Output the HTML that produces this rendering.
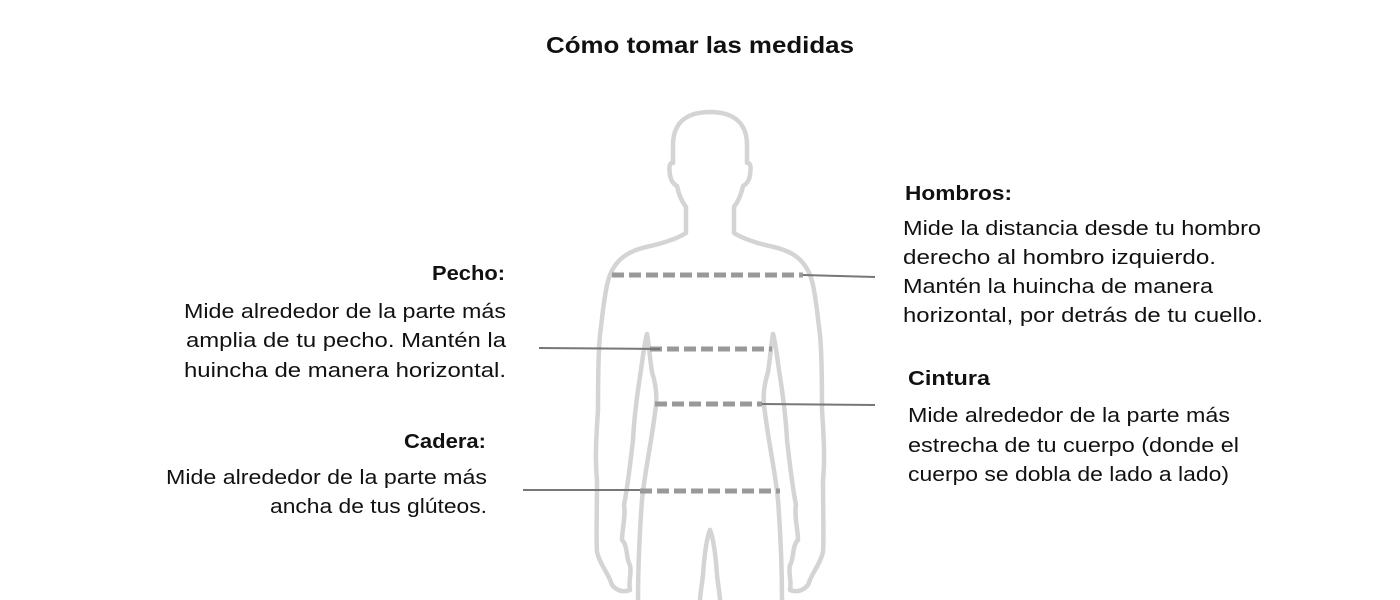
<!DOCTYPE html>
<html><head><meta charset="utf-8"><style>
html,body{margin:0;padding:0;background:#fff;}
svg{display:block;}
text{font-family:"Liberation Sans",sans-serif;fill:#111;}
.h{font-weight:bold;font-size:20px;}
.b{font-size:20px;}
</style></head><body>
<svg width="1400" height="600" viewBox="0 0 1400 600" xmlns="http://www.w3.org/2000/svg">
<text x="546" y="53" class="h" style="font-size:23px" textLength="308" lengthAdjust="spacingAndGlyphs">Cómo tomar las medidas</text>

<g fill="none" stroke="#d4d4d4" stroke-width="4.5" stroke-linejoin="round" stroke-linecap="round">
<g id="half">
<path d="M710,112 C690,112 673,120 673,145 L673,163 C669,162 669,168 670,175 C671,182 675,185 677,186 C679,196 683,203 686,207 L686,233 C675,240 660,244 646,247 C625,252 612,262 607,285 C603,305 602,320 600,335 C598,355 598,385 598,410 C596,440 595,460 597,480 C597,510 596,540 597,552 C600,565 608,572 612,585 C618,592 625,592 630,590 C628,580 632,575 630,565 C626,560 628,545 622,540 C622,530 626,515 624,505 C628,485 630,465 633,440 C634,420 637,395 641,370 C643,355 645,340 647,334"/>
<path d="M647,334 C649,345 650,360 652,372 C656,385 657,395 656,405 C652,440 645,470 642,500 C639,540 638,570 638,600"/>
<path d="M710,530 C706,540 704,560 703,575 C702,585 700,595 700,600"/>
</g>
<use href="#half" transform="translate(1420,0) scale(-1,1)"/>
</g>

<g stroke="#999" stroke-width="5" stroke-dasharray="12,5" fill="none">
<line x1="612" y1="275" x2="803" y2="275"/>
<line x1="650" y1="349" x2="772" y2="349"/>
<line x1="655" y1="404" x2="762" y2="404"/>
<line x1="640" y1="491" x2="780" y2="491"/>
</g>
<g stroke="#777" stroke-width="2" fill="none">
<line x1="803" y1="275" x2="875" y2="277"/>
<line x1="539" y1="348" x2="660" y2="349"/>
<line x1="762" y1="404" x2="875" y2="405"/>
<line x1="523" y1="490" x2="640" y2="490"/>
</g>

<text x="905" y="200" class="h" textLength="107" lengthAdjust="spacingAndGlyphs">Hombros:</text>
<text x="903" y="235" class="b" textLength="358" lengthAdjust="spacingAndGlyphs">Mide la distancia desde tu hombro</text>
<text x="903" y="264" class="b" textLength="313" lengthAdjust="spacingAndGlyphs">derecho al hombro izquierdo.</text>
<text x="903" y="293" class="b" textLength="310" lengthAdjust="spacingAndGlyphs">Mantén la huincha de manera</text>
<text x="903" y="322" class="b" textLength="360" lengthAdjust="spacingAndGlyphs">horizontal, por detrás de tu cuello.</text>

<text x="908" y="385" class="h" textLength="82" lengthAdjust="spacingAndGlyphs">Cintura</text>
<text x="908" y="422" class="b" textLength="322" lengthAdjust="spacingAndGlyphs">Mide alrededor de la parte más</text>
<text x="908" y="452" class="b" textLength="331" lengthAdjust="spacingAndGlyphs">estrecha de tu cuerpo (donde el</text>
<text x="908" y="481" class="b" textLength="321" lengthAdjust="spacingAndGlyphs">cuerpo se dobla de lado a lado)</text>

<text x="432" y="280" class="h" textLength="73" lengthAdjust="spacingAndGlyphs">Pecho:</text>
<text x="184" y="318" class="b" textLength="322" lengthAdjust="spacingAndGlyphs">Mide alrededor de la parte más</text>
<text x="186" y="347" class="b" textLength="320" lengthAdjust="spacingAndGlyphs">amplia de tu pecho. Mantén la</text>
<text x="184" y="377" class="b" textLength="322" lengthAdjust="spacingAndGlyphs">huincha de manera horizontal.</text>

<text x="404" y="448" class="h" textLength="82" lengthAdjust="spacingAndGlyphs">Cadera:</text>
<text x="166" y="484" class="b" textLength="321" lengthAdjust="spacingAndGlyphs">Mide alrededor de la parte más</text>
<text x="270" y="513" class="b" textLength="217" lengthAdjust="spacingAndGlyphs">ancha de tus glúteos.</text>
</svg>
</body></html>
